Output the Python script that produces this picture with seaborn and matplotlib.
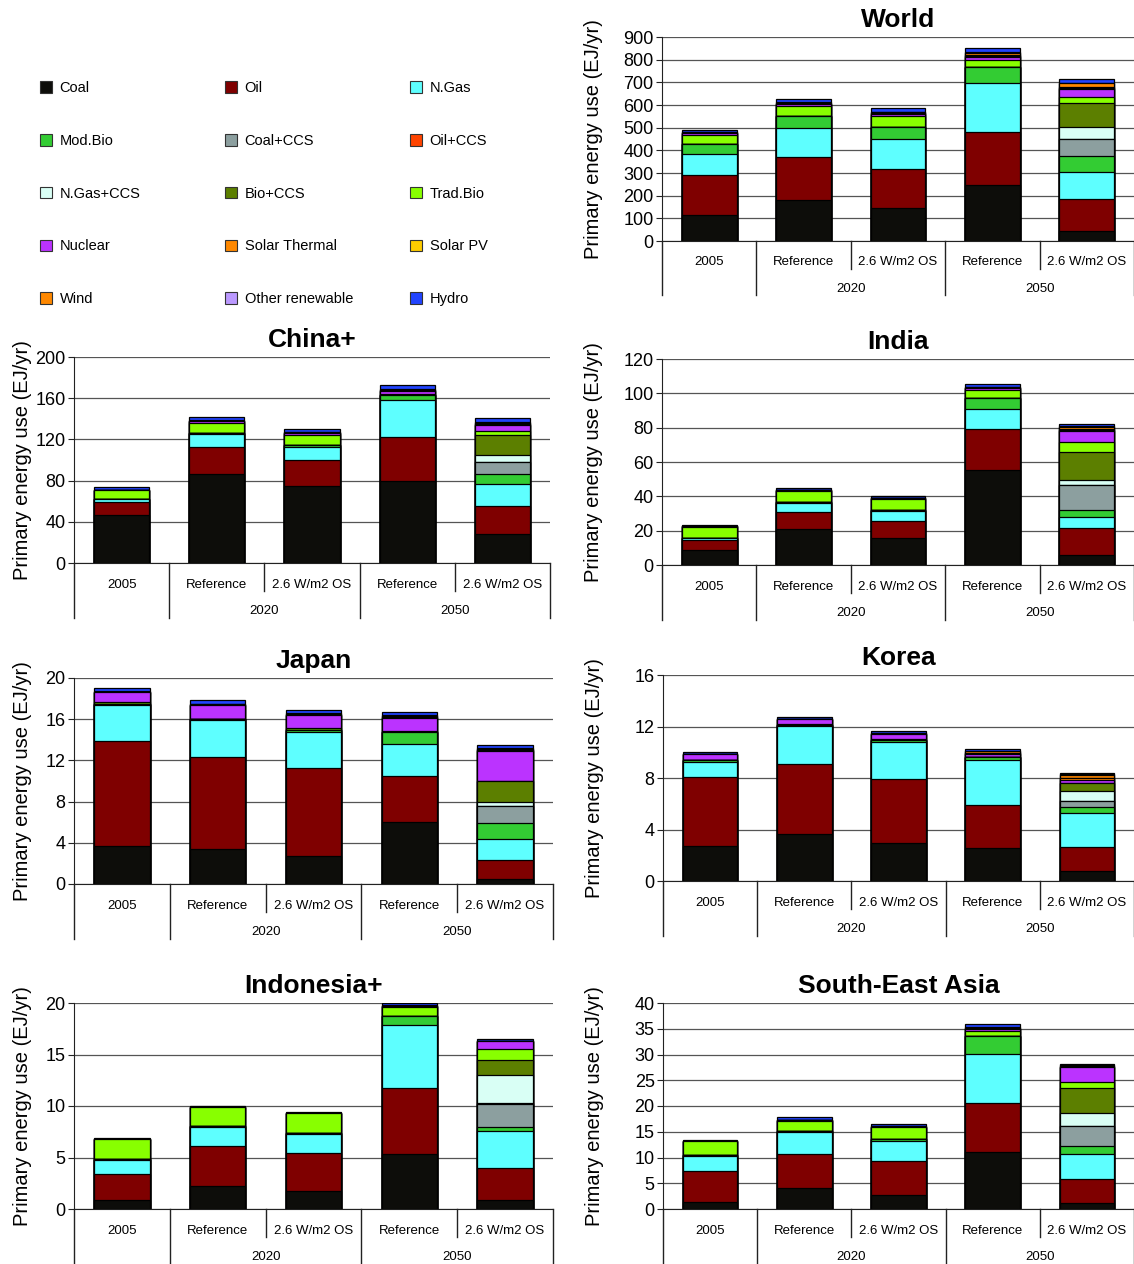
import numpy as np
import pandas as pd
import matplotlib
matplotlib.use('Agg')
import matplotlib.pyplot as plt
import matplotlib.transforms as mtransforms
from matplotlib.patches import Patch
import seaborn as sns

plt.rcParams['font.family'] = ['Liberation Sans', 'DejaVu Sans']

FUELS = ['Coal', 'Oil', 'N.Gas', 'Mod.Bio', 'Coal+CCS', 'Oil+CCS', 'N.Gas+CCS',
         'Bio+CCS', 'Trad.Bio', 'Nuclear', 'Solar Thermal', 'Solar PV', 'Wind',
         'Other renewable', 'Hydro']
COLORS = ['#0d0d0a', '#7f0000', '#5effff', '#33cc33', '#8c9f9f', '#ff4400', '#d9fff5',
          '#5c7f00', '#88ff00', '#bb33ff', '#ff8800', '#ffcc00', '#ff8800',
          '#bb99ff', '#2244ff']

SCENARIOS = ['2005', '2020 Ref', '2020 OS', '2050 Ref', '2050 OS']
SCEN_LABELS = ['2005', 'Reference', '2.6 W/m2 OS', 'Reference', '2.6 W/m2 OS']
YEAR_LABELS = ['2020', '2050']

# EJ/yr, one value per scenario
world = {
    'Coal':            [115, 181, 146, 248, 44],
    'Oil':             [176, 188, 173, 231, 142],
    'N.Gas':           [94, 128, 129, 216, 118],
    'Mod.Bio':         [44, 53, 56, 72, 71],
    'Coal+CCS':        [0, 0, 0, 0, 73],
    'Oil+CCS':         [0, 0, 0, 0, 2],
    'N.Gas+CCS':       [0, 0, 0, 0, 53],
    'Bio+CCS':         [0, 0, 0, 0, 106],
    'Trad.Bio':        [40, 46, 46, 31, 27],
    'Nuclear':         [9, 8, 10, 15, 35],
    'Solar Thermal':   [0, 1, 1, 3, 4],
    'Solar PV':        [0, 1, 2, 3, 3],
    'Wind':            [1, 3, 4, 10, 17],
    'Other renewable': [2, 3, 4, 4, 3],
    'Hydro':           [9, 13, 14, 17, 17],
}
china = {
    'Coal':            [47, 86, 75, 80, 28],
    'Oil':             [12, 27, 25, 42, 27],
    'N.Gas':           [3, 12, 13, 36, 22],
    'Mod.Bio':         [0.5, 1, 2, 5, 9],
    'Coal+CCS':        [0, 0, 0, 0, 12],
    'Oil+CCS':         [0, 0, 0, 0, 0.5],
    'N.Gas+CCS':       [0, 0, 0, 0, 6],
    'Bio+CCS':         [0, 0, 0, 0, 20],
    'Trad.Bio':        [8, 10, 9.5, 1, 3.5],
    'Nuclear':         [0.5, 1.5, 2, 3, 5.5],
    'Solar Thermal':   [0, 0, 0, 0.3, 0.5],
    'Solar PV':        [0, 0, 0, 0.3, 0.5],
    'Wind':            [0, 0.5, 0.5, 0.4, 1.5],
    'Other renewable': [0, 0.5, 0.5, 1, 1],
    'Hydro':           [3, 3, 3, 4, 4],
}
india = {
    'Coal':            [8.7, 21, 16, 55.3, 5.8],
    'Oil':             [5.9, 10, 9.4, 23.7, 15.8],
    'N.Gas':           [1, 5, 6.1, 11.7, 6.4],
    'Mod.Bio':         [0.3, 0.5, 0.5, 6.4, 4.2],
    'Coal+CCS':        [0, 0, 0, 0, 14.2],
    'Oil+CCS':         [0, 0, 0, 0, 0],
    'N.Gas+CCS':       [0, 0, 0, 0, 3.1],
    'Bio+CCS':         [0, 0, 0, 0, 16.5],
    'Trad.Bio':        [6.4, 6.5, 6.5, 4.9, 5.5],
    'Nuclear':         [0.2, 0.5, 0.8, 1, 6.5],
    'Solar Thermal':   [0, 0, 0, 0.2, 0.8],
    'Solar PV':        [0, 0, 0, 0.1, 0.5],
    'Wind':            [0, 0, 0, 0.2, 1.3],
    'Other renewable': [0, 0, 0, 0.3, 0.2],
    'Hydro':           [0.6, 1.2, 1.1, 1.7, 1.2],
}
japan = {
    'Coal':            [3.65, 3.4, 2.7, 6.0, 0.52],
    'Oil':             [10.2, 8.93, 8.56, 4.45, 1.84],
    'N.Gas':           [3.55, 3.62, 3.54, 3.1, 2.04],
    'Mod.Bio':         [0.1, 0.1, 0.2, 1.17, 1.52],
    'Coal+CCS':        [0, 0, 0, 0, 1.62],
    'Oil+CCS':         [0, 0, 0, 0, 0],
    'N.Gas+CCS':       [0, 0, 0, 0, 0.42],
    'Bio+CCS':         [0, 0, 0, 0, 2.01],
    'Trad.Bio':        [0.15, 0, 0.1, 0.13, 0.02],
    'Nuclear':         [0.95, 1.35, 1.3, 1.3, 2.95],
    'Solar Thermal':   [0, 0, 0, 0, 0.05],
    'Solar PV':        [0, 0, 0, 0.05, 0.05],
    'Wind':            [0.05, 0.05, 0.1, 0.1, 0.1],
    'Other renewable': [0.05, 0.05, 0.1, 0.1, 0.05],
    'Hydro':           [0.35, 0.35, 0.3, 0.27, 0.31],
}
korea = {
    'Coal':            [2.69, 3.62, 2.92, 2.58, 0.75],
    'Oil':             [5.4, 5.5, 5.01, 3.34, 1.89],
    'N.Gas':           [1.19, 2.92, 2.9, 3.51, 2.61],
    'Mod.Bio':         [0.1, 0.1, 0.12, 0.18, 0.49],
    'Coal+CCS':        [0, 0, 0, 0, 0.49],
    'Oil+CCS':         [0, 0, 0, 0, 0],
    'N.Gas+CCS':       [0, 0, 0, 0, 0.75],
    'Bio+CCS':         [0, 0, 0, 0, 0.62],
    'Trad.Bio':        [0.05, 0.06, 0.05, 0.05, 0.05],
    'Nuclear':         [0.44, 0.36, 0.42, 0.21, 0.23],
    'Solar Thermal':   [0, 0, 0, 0.05, 0.1],
    'Solar PV':        [0, 0, 0, 0.05, 0.05],
    'Wind':            [0, 0, 0.05, 0.1, 0.24],
    'Other renewable': [0, 0, 0, 0.05, 0.03],
    'Hydro':           [0.13, 0.15, 0.16, 0.14, 0.12],
}
indonesia = {
    'Coal':            [0.87, 2.23, 1.75, 5.34, 0.87],
    'Oil':             [2.56, 3.92, 3.72, 6.38, 3.14],
    'N.Gas':           [1.33, 1.84, 1.78, 6.14, 3.53],
    'Mod.Bio':         [0.05, 0.1, 0.15, 0.88, 0.45],
    'Coal+CCS':        [0, 0, 0, 0, 2.17],
    'Oil+CCS':         [0, 0, 0, 0, 0.16],
    'N.Gas+CCS':       [0, 0, 0, 0, 2.68],
    'Bio+CCS':         [0, 0, 0, 0, 1.47],
    'Trad.Bio':        [1.99, 1.84, 1.92, 0.9, 1.03],
    'Nuclear':         [0, 0, 0, 0.05, 0.78],
    'Solar Thermal':   [0, 0, 0, 0, 0],
    'Solar PV':        [0, 0, 0, 0, 0],
    'Wind':            [0, 0, 0, 0.05, 0.07],
    'Other renewable': [0, 0, 0, 0.05, 0],
    'Hydro':           [0.06, 0.1, 0.07, 0.21, 0.15],
}
sea = {
    'Coal':            [1.42, 4.01, 2.78, 11.0, 1.1],
    'Oil':             [5.96, 6.67, 6.48, 9.52, 4.66],
    'N.Gas':           [2.98, 4.34, 4.01, 9.51, 4.92],
    'Mod.Bio':         [0.1, 0.18, 0.33, 3.63, 1.55],
    'Coal+CCS':        [0, 0, 0, 0, 3.89],
    'Oil+CCS':         [0, 0, 0, 0, 0],
    'N.Gas+CCS':       [0, 0, 0, 0, 2.59],
    'Bio+CCS':         [0, 0, 0, 0, 4.79],
    'Trad.Bio':        [2.74, 1.95, 2.26, 0.9, 1.16],
    'Nuclear':         [0, 0.1, 0.1, 0.4, 2.98],
    'Solar Thermal':   [0, 0, 0, 0, 0],
    'Solar PV':        [0, 0, 0, 0, 0],
    'Wind':            [0, 0, 0.1, 0.2, 0.15],
    'Other renewable': [0, 0, 0, 0.1, 0.1],
    'Hydro':           [0.2, 0.55, 0.38, 0.6, 0.3],
}

W, H = 1134, 1264


def px_axes(fig, left, top, right, bottom):
    return fig.add_axes([left / W, 1 - bottom / H, (right - left) / W, (bottom - top) / H])


def draw_panel(ax, title, data, ymax, step, label_x):
    df = pd.DataFrame(data, index=SCENARIOS)[FUELS]
    cum = df.cumsum(axis=1)
    # stacked bars: draw cumulative totals from the top layer down
    for fuel, color in reversed(list(zip(FUELS, COLORS))):
        layer = pd.DataFrame({'scenario': SCENARIOS, 'value': cum[fuel].values})
        sns.barplot(data=layer, x='scenario', y='value', order=SCENARIOS, color=color,
                    saturation=1, width=0.58, edgecolor='black', linewidth=0.9,
                    errorbar=None, ax=ax)
    ax.set_xlim(-0.5, 4.5)
    ax.set_ylim(0, ymax)
    ax.set_yticks(np.arange(0, ymax + step / 2, step))
    ax.grid(axis='y', color='#555555', linewidth=0.9)
    ax.set_axisbelow(True)
    for s in ['top', 'right']:
        ax.spines[s].set_visible(False)
    ax.spines['left'].set_color('#222222')
    ax.spines['bottom'].set_color('#222222')
    ax.set_xticks([])
    ax.set_xlabel('')
    ax.tick_params(axis='y', length=4, labelsize=13, color='#222222', pad=2)
    ax.set_ylabel('Primary energy use (EJ/yr)', fontsize=14.5)
    ax.yaxis.set_label_coords(label_x, 0.5)
    ax.set_title(title, fontsize=19, fontweight='bold', pad=7)

    trans = mtransforms.blended_transform_factory(ax.transData, ax.transAxes)
    for i, lab in enumerate(SCEN_LABELS):
        ax.text(i, -0.105, lab, transform=trans, ha='center', va='center', fontsize=9.5)
    for x, lab in zip([1.5, 3.5], YEAR_LABELS):
        ax.text(x, -0.235, lab, transform=trans, ha='center', va='center', fontsize=9.5)
    for b in [-0.5, 0.5, 2.5, 4.5]:
        ax.plot([b, b], [0, -0.267], transform=trans, color='#222222', lw=1, clip_on=False)
    for b in [1.5, 3.5]:
        ax.plot([b, b], [0, -0.136], transform=trans, color='#222222', lw=1, clip_on=False)


fig = plt.figure(figsize=(W / 100, H / 100), dpi=100)

panels = [
    ('World', world, 900, 100, (662, 37, 1134, 241), -0.125),
    ('China+', china, 200, 40, (74, 357, 550, 563), -0.088),
    ('India', india, 120, 20, (662, 359, 1134, 565), -0.125),
    ('Japan', japan, 20, 4, (74, 678, 553, 884), -0.088),
    ('Korea', korea, 16, 4, (663, 675, 1134, 881), -0.125),
    ('Indonesia+', indonesia, 20, 5, (74, 1003, 553, 1209), -0.088),
    ('South-East Asia', sea, 40, 5, (663, 1003, 1134, 1209), -0.125),
]
for title, data, ymax, step, box, lx in panels:
    ax = px_axes(fig, *box)
    draw_panel(ax, title, data, ymax, step, lx)

# legend: 3 columns x 5 rows, filled row by row
handles = [Patch(facecolor=c, edgecolor='#333333', linewidth=0.8, label=f)
           for f, c in zip(FUELS, COLORS)]
for col, x0 in enumerate([40, 225, 410]):
    fig.legend(handles=handles[col::3], loc='upper left',
               bbox_to_anchor=(x0 / W, 1 - 81 / H), frameon=False,
               fontsize=10.5, handlelength=0.85, handleheight=0.85,
               handletextpad=0.5, labelspacing=2.66, borderpad=0, borderaxespad=0)

fig.savefig('out.png', dpi=100)
